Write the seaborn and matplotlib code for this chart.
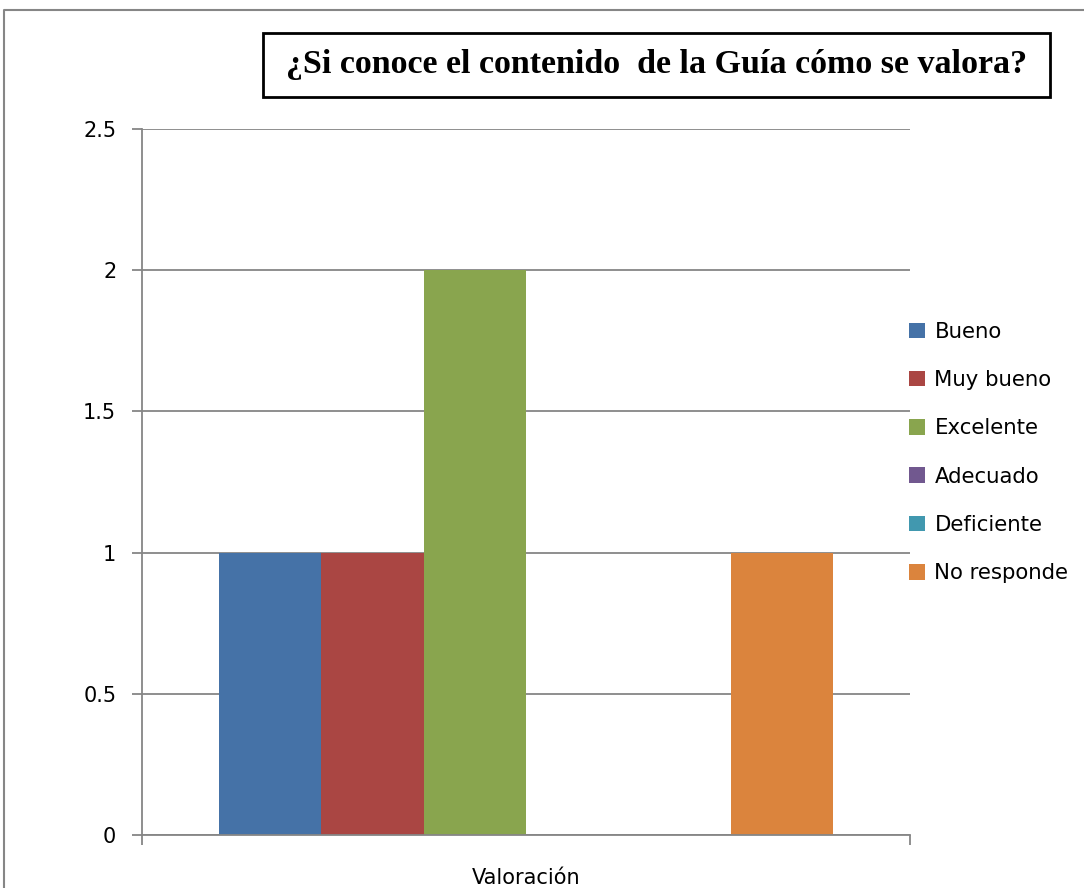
import pandas as pd
import seaborn as sns
import matplotlib.pyplot as plt
from matplotlib.patches import Rectangle, Patch
from matplotlib.lines import Line2D

# data
categoria = ["Valoración"]
respuestas = ["Bueno", "Muy bueno", "Excelente", "Adecuado", "Deficiente", "No responde"]
valores = [1, 1, 2, 0, 0, 1]
colores = ["#4572A7", "#AA4643", "#89A54E", "#71588F", "#4198AF", "#DB843D"]
y_ticks = [0, 0.5, 1, 1.5, 2, 2.5]
y_labels = ["0", "0.5", "1", "1.5", "2", "2.5"]
titulo = "¿Si conoce el contenido  de la Guía cómo se valora?"

df = pd.DataFrame({
    "categoria": categoria * len(respuestas),
    "respuesta": respuestas,
    "valor": valores,
})

sns.set_style("white")
plt.rcParams["font.family"] = ["DejaVu Sans"]
plt.rcParams["text.color"] = "black"
plt.rcParams["xtick.labelcolor"] = "black"
plt.rcParams["ytick.labelcolor"] = "black"
gris = "#868686"

fig = plt.figure(figsize=(10.84, 8.88), dpi=100)
ax = fig.add_axes([142 / 1084, 1 - 835 / 888, 768 / 1084, 706 / 888])

sns.barplot(data=df, x="categoria", y="valor", hue="respuesta", hue_order=respuestas,
            palette=colores, saturation=1, errorbar=None, width=0.8, linewidth=0,
            legend=False, ax=ax)

ax.set_xlim(-0.5, 0.5)
ax.set_ylim(0, 2.5)
ax.set_yticks(y_ticks)
ax.set_yticklabels(y_labels)
ax.yaxis.grid(True, color=gris, lw=1.3)
ax.set_axisbelow(True)
ax.set_xlabel("")
ax.set_ylabel("")

for s in ["top", "right"]:
    ax.spines[s].set_visible(False)
for s in ["left", "bottom"]:
    ax.spines[s].set_color(gris)
    ax.spines[s].set_linewidth(1.3)

ax.tick_params(axis="y", length=7.5, width=1.3, color=gris, pad=11, labelsize=15, left=True)
ax.set_xticks([0])
ax.set_xticklabels(categoria)
ax.set_xticks([-0.5, 0.5], minor=True)
ax.tick_params(axis="x", which="major", length=0, pad=24, labelsize=15)
ax.tick_params(axis="x", which="minor", length=7.5, width=1.3, color=gris, bottom=True)

# legend
handles = [Patch(facecolor=c, edgecolor="none") for c in colores]
fig.legend(handles, respuestas, loc="center left", bbox_to_anchor=(909 / 1084, 1 - 452.5 / 888),
           frameon=False, fontsize=15.3, handlelength=0.75, handleheight=0.75,
           handletextpad=0.45, labelspacing=1.33, borderpad=0, borderaxespad=0)

# title box
fig.add_artist(Rectangle((263 / 1084, 1 - 97 / 888), 787 / 1084, 64 / 888,
                         transform=fig.transFigure, fill=False, ec="black", lw=2))
fig.text(657 / 1084, 1 - 65 / 888, titulo, ha="center", va="center", color="black",
         fontfamily="Liberation Serif", fontweight="bold", fontsize=24.5)

# outer frame (top and left edges visible)
fig.add_artist(Line2D([4 / 1084, 4 / 1084, 1], [0, 1 - 10 / 888, 1 - 10 / 888],
                      transform=fig.transFigure, color=gris, lw=1.5))

fig.savefig("out.png", dpi=100)
